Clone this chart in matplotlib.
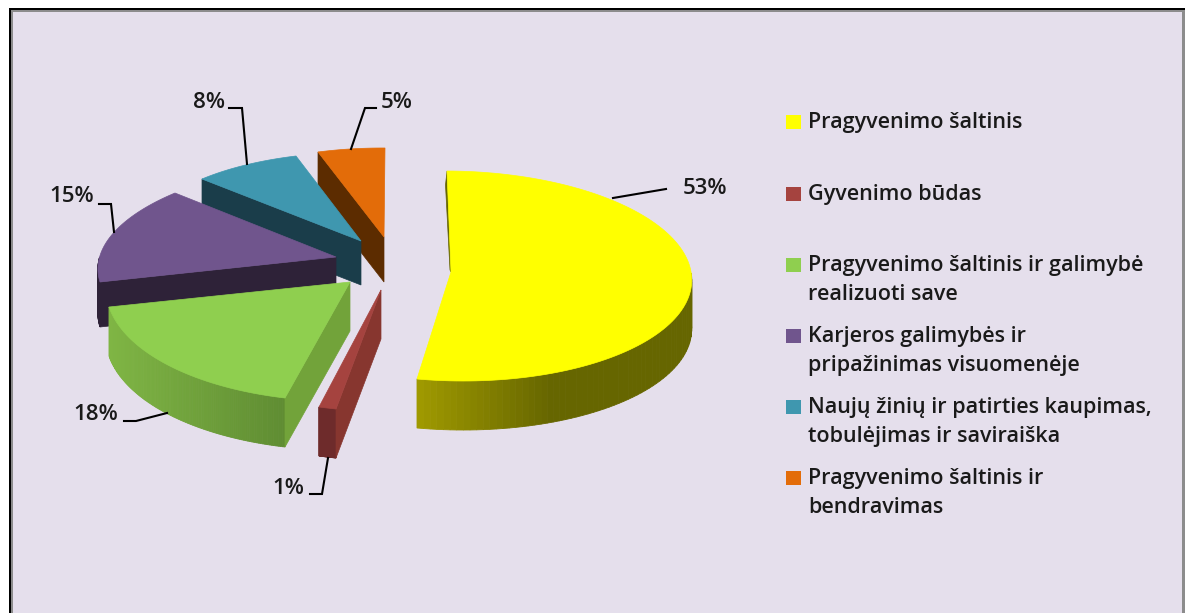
import numpy as np
import matplotlib
matplotlib.use("Agg")
import matplotlib.pyplot as plt
from matplotlib.colors import to_rgb
from matplotlib.patches import Rectangle

plt.rcParams['font.family'] = ['Open Sans', 'DejaVu Sans']

values = [53, 1, 18, 15, 8, 5]
labels = ["Pragyvenimo šaltinis",
          "Gyvenimo būdas",
          "Pragyvenimo šaltinis ir galimybė\nrealizuoti save",
          "Karjeros galimybės ir\npripažinimas visuomenėje",
          "Naujų žinių ir patirties kaupimas,\ntobulėjimas ir saviraiška",
          "Pragyvenimo šaltinis ir\nbendravimas"]
colors = ["#FFFF00", "#A5433F", "#8FCF4F", "#70558D", "#3F97AF", "#E36C09"]

# drawing of each exploded slice, pixel coords of the original picture
apex = [(451, 272), (381, 290), (350, 282), (336, 257), (361, 241), (384, 237)]
center = [(454.3, 276), (381, 290), (352, 283), (345, 262), (361, 243), (384, 237)]
corner0 = [(447, 171), (336, 409), (285, 398), (100, 282), (202, 179), (318, 152)]
corner1 = [(417, 379), (319, 407), (109, 307), (175, 193), (296, 156), (385, 148)]
depth = [49, 49, 49, 45, 44, 45]
face_col = [None, "#87362F", "#72A33A", "#2E2238", "#1A3D4A", "#5C2C00"]
# side colour going left to right
side_x = [(417, 550), (319, 336), (110, 287), (95, 180), (200, 300), (318, 385)]
side_col = [("#A09A00", "#666600"), ("#6E2B2B", "#6E2B2B"), ("#7FB544", "#5F8C32"),
            ("#2E2238", "#2E2238"), ("#1A3D4A", "#1A3D4A"), ("#5C2C00", "#5C2C00")]

pct_pos = [(705, 188), (288, 488), (96, 414), (72, 197), (209, 103), (397, 103)]
leader_x = [(613, 666), (328, 322, 310), (167, 136, 124), (114, 111, 99), (247, 242, 229), (351, 365, 376)]
leader_y = [(198, 189), (458, 494, 494), (413, 421, 421), (232, 204, 204), (164, 108, 108), (149, 108, 108)]

legend_y = [128, 200, 271, 342, 413, 484]

fig = plt.figure(figsize=(11.85, 6.13), dpi=100)
ax = fig.add_axes([0, 0, 1, 1])
ax.set_xlim(0, 1185)
ax.set_ylim(613, 0)
ax.axis("off")

ax.add_patch(Rectangle((9, 8), 1180, 610, fc="black", ec="none"))
ax.add_patch(Rectangle((11, 10), 1180, 610, fc="#8C8C8C", ec="none"))
ax.add_patch(Rectangle((13, 11.5), 1169, 610, fc="#E5DFEC", ec="none"))

fracs = np.cumsum([0] + values) / sum(values) * 2 * np.pi


def slice_arc(i, n=120):
    t0, t1 = fracs[i], fracs[i + 1]
    c = np.array(center[i], float)
    u = np.array([[np.sin(t0), np.sin(t1)], [np.cos(t0), np.cos(t1)]])
    p = np.array([np.subtract(corner0[i], c), np.subtract(corner1[i], c)]).T
    A = p @ np.linalg.inv(u)
    t = np.linspace(t0, t1, n)
    return (A @ np.vstack([np.sin(t), np.cos(t)])).T + c, t


order = [5, 4, 3, 2, 1, 0]
for i in order:
    arc, t = slice_arc(i)
    d = depth[i]
    # outer rim, split up for the gradient, only the part facing the viewer
    c0, c1 = np.array(to_rgb(side_col[i][0])), np.array(to_rgb(side_col[i][1]))
    for k in range(len(arc) - 1):
        if np.cos(t[k]) > 0.05:
            continue
        a, b = arc[k], arc[k + 1]
        f = np.clip(((a[0] + b[0]) / 2 - side_x[i][0]) / (side_x[i][1] - side_x[i][0]), 0, 1)
        col = c0 + (c1 - c0) * f
        ax.fill([a[0], b[0], b[0], a[0]], [a[1], b[1], b[1] + d, a[1] + d],
                fc=col, ec=col, lw=0.6)
    # cut face
    if face_col[i] is not None:
        ax_, ay_ = apex[i]
        bx_, by_ = arc[0]
        ax.fill([ax_, bx_, bx_, ax_], [ay_, by_, by_ + d, ay_ + d],
                fc=face_col[i], ec=face_col[i], lw=0.5)
    else:
        ax.fill([447, 451, 450, 445.5], [171, 272, 270, 185], fc="#666600", ec="#666600", lw=0.5)
    # top
    ax.fill(np.r_[apex[i][0], arc[:, 0]], np.r_[apex[i][1], arc[:, 1]],
            fc=colors[i], ec=colors[i], lw=0.5)

for i in range(len(values)):
    ax.plot(leader_x[i], leader_y[i], color="black", lw=1.5, solid_joinstyle="miter")
    ax.text(pct_pos[i][0], pct_pos[i][1], f"{values[i]}%", ha="center", va="center",
            fontsize=16, fontweight="semibold", color="#1A1A1A")

for i, lab in enumerate(labels):
    ax.add_patch(Rectangle((786, legend_y[i] - 13), 15, 14, fc=colors[i], ec="none"))
    for j, line in enumerate(lab.split("\n")):
        ax.text(808, legend_y[i] + j * 28.7, line, ha="left", va="baseline",
                fontsize=15.5, fontweight="semibold", color="#1A1A1A")

fig.savefig("out.png", dpi=100, facecolor="white")
